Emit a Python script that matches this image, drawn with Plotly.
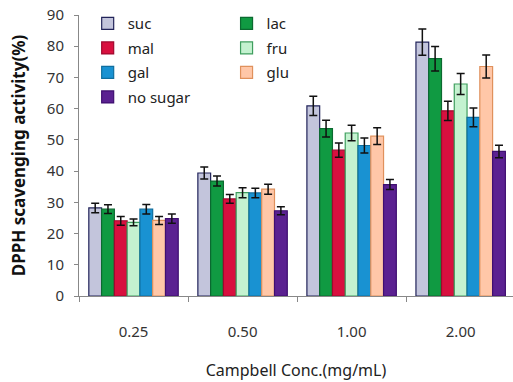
import plotly.graph_objects as go

# Campbell concentration groups on the x axis
concentrations = ["0.25", "0.50", "1.00", "2.00"]

# DPPH scavenging activity (%) per sugar treatment
suc = [28.2, 39.4, 60.9, 81.3]
lac = [27.8, 36.8, 53.6, 76.0]
mal = [24.1, 31.1, 46.7, 59.3]
fru = [23.6, 33.1, 52.2, 67.9]
gal = [27.8, 33.0, 48.2, 57.2]
glu = [24.2, 34.2, 51.2, 73.5]
no_sugar = [24.8, 27.3, 35.7, 46.3]

# Standard deviations
suc_err = [1.5, 1.9, 3.1, 4.2]
lac_err = [1.4, 1.6, 2.7, 3.9]
mal_err = [1.4, 1.4, 2.3, 3.1]
fru_err = [1.1, 1.6, 2.5, 3.4]
gal_err = [1.5, 1.5, 2.4, 3.0]
glu_err = [1.3, 1.6, 2.7, 3.7]
no_sugar_err = [1.5, 1.3, 1.6, 2.0]

series = [
    ("suc", suc, suc_err, "#c3c5dc", "#22245a", "legend"),
    ("lac", lac, lac_err, "#109a42", "#0b6a30", "legend2"),
    ("mal", mal, mal_err, "#d8103f", "#a0082e", "legend"),
    ("fru", fru, fru_err, "#c4f2d0", "#3f9e5e", "legend2"),
    ("gal", gal, gal_err, "#1992d2", "#0f6e9e", "legend"),
    ("glu", glu, glu_err, "#ffc7a8", "#e0915c", "legend2"),
    ("no sugar", no_sugar, no_sugar_err, "#5b2191", "#3f0f70", "legend"),
]

FONT = "Noto Sans"

fig = go.Figure()
for name, vals, errs, fill, edge, leg in series:
    fig.add_trace(go.Bar(
        name=name,
        x=concentrations,
        y=vals,
        marker=dict(color=fill, line=dict(color=edge, width=1.2)),
        error_y=dict(type="data", array=errs, visible=True,
                     color="#111111", thickness=1.5, width=4),
        legend=leg,
        legendgroup=name,
    ))

legend_style = dict(
    orientation="v",
    bgcolor="rgba(0,0,0,0)",
    font=dict(family=FONT, size=15, color="#222222"),
    itemwidth=30,
    yanchor="top",
    y=1.028,
    tracegroupgap=2,
)

fig.update_layout(
    width=513,
    height=382,
    margin=dict(l=79, r=0, t=15, b=86),
    paper_bgcolor="white",
    plot_bgcolor="white",
    barmode="group",
    bargap=0.18,
    bargroupgap=0.0,
    font=dict(family=FONT, size=14, color="#333333"),
    legend=dict(legend_style, x=0.02, xanchor="left"),
    legend2=dict(legend_style, x=0.34, xanchor="left"),
    xaxis=dict(
        type="category",
        range=[-0.5, 3.48],
        automargin=False,
        showline=True,
        linecolor="#888888",
        linewidth=1,
        ticks="outside",
        tickson="boundaries",
        ticklen=5,
        tickcolor="#888888",
        ticklabelstandoff=22,
        tickfont=dict(family=FONT, size=15, color="#333333"),
        title=dict(text="Campbell Conc.(mg/mL)",
                   font=dict(family=FONT, size=16, color="#222222"),
                   standoff=24),
        showgrid=False,
    ),
    yaxis=dict(
        range=[0, 90],
        dtick=10,
        automargin=False,
        showline=True,
        linecolor="#888888",
        linewidth=1,
        ticks="outside",
        ticklen=4,
        tickcolor="#888888",
        ticklabelstandoff=7,
        tickfont=dict(family=FONT, size=15, color="#333333"),
        title=dict(text="<b>DPPH scavenging activity(%)</b>",
                   font=dict(family=FONT, size=17, color="#111111"),
                   standoff=16),
        showgrid=False,
        zeroline=False,
    ),
)

fig.write_html("out.html")
